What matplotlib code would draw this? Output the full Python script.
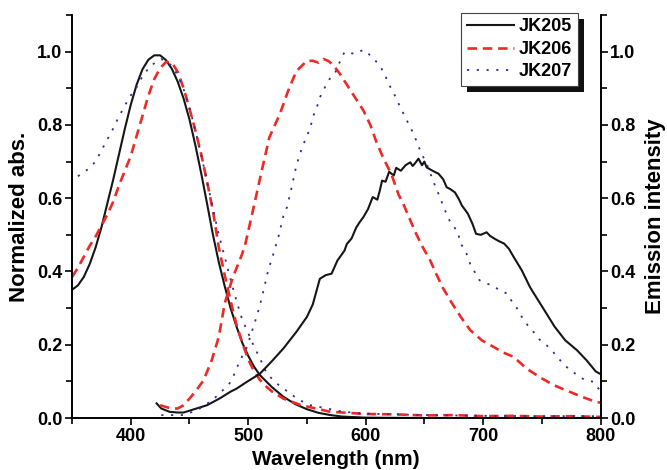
import matplotlib
matplotlib.use('Agg')
import matplotlib.pyplot as plt
from matplotlib.patches import Rectangle
from matplotlib.transforms import IdentityTransform
from matplotlib.ticker import MultipleLocator

plt.rcParams['font.family'] = ['Liberation Sans', 'DejaVu Sans']
plt.rcParams['font.weight'] = 'bold'

# --- absorption (left axis) ---
abs205_wl = [350, 355, 360, 365, 370, 375, 380, 385, 390, 395, 400, 405, 410, 415, 420, 425,
             430, 435, 440, 445, 450, 455, 460, 465, 470, 475, 480, 485, 490, 495, 500, 505,
             510, 520, 530, 540, 550, 560, 570, 580, 600, 650, 700, 750, 800]
abs205 = [0.35, 0.362, 0.385, 0.42, 0.465, 0.52, 0.585, 0.65, 0.72, 0.79, 0.855, 0.91, 0.952,
          0.978, 0.99, 0.99, 0.977, 0.953, 0.918, 0.872, 0.815, 0.745, 0.668, 0.585, 0.50, 0.425,
          0.36, 0.30, 0.25, 0.205, 0.17, 0.14, 0.117, 0.085, 0.058, 0.038, 0.024, 0.014, 0.008,
          0.004, 0.001, 0.0, 0.0, 0.0, 0.0]

abs206_wl = [350, 355, 360, 365, 370, 375, 380, 385, 390, 395, 400, 405, 410, 415, 420, 425, 430,
             435, 440, 445, 450, 455, 460, 465, 470, 475, 480, 485, 490, 495, 500, 505, 510, 515,
             520, 530, 545, 570, 600, 625, 650, 675, 700, 725, 750, 775, 800]
abs206 = [0.385, 0.41, 0.44, 0.47, 0.495, 0.525, 0.555, 0.59, 0.635, 0.675, 0.715, 0.77, 0.825,
          0.88, 0.925, 0.955, 0.972, 0.97, 0.945, 0.90, 0.845, 0.785, 0.72, 0.645, 0.565, 0.465,
          0.39, 0.32, 0.255, 0.205, 0.16, 0.128, 0.104, 0.087, 0.073, 0.053, 0.035, 0.017, 0.011,
          0.01, 0.007, 0.008, 0.005, 0.006, 0.004, 0.005, 0.003]

abs207_wl = [355, 364, 370, 375, 380, 385, 389, 394, 399, 405, 410, 417, 426, 435, 440, 445, 450,
             455, 460, 465, 470, 475, 480, 485, 490, 495, 500, 505, 510, 516, 526, 543, 553, 581,
             600, 650, 700, 750, 800]
abs207 = [0.66, 0.68, 0.70, 0.73, 0.76, 0.79, 0.817, 0.847, 0.876, 0.903, 0.933, 0.962, 0.98, 0.962,
          0.935, 0.898, 0.847, 0.785, 0.718, 0.645, 0.572, 0.50, 0.44, 0.378, 0.32, 0.268, 0.232,
          0.195, 0.163, 0.12, 0.09, 0.05, 0.035, 0.017, 0.012, 0.008, 0.006, 0.005, 0.005]

# --- emission (right axis) ---
em205_wl = [422, 426, 433, 440, 445, 453, 465, 476, 485, 490, 499, 510, 521, 530, 541, 550, 555,
            558, 561, 566, 571, 576, 582, 584, 588, 592, 595, 598, 602, 606, 610, 612, 614, 617,
            620, 624, 626, 630, 634, 638, 640, 642, 645, 648, 650, 652, 657, 660, 662, 666, 669,
            672, 676, 679, 682, 687, 691, 694, 698, 703, 706, 710, 714, 718, 722, 726, 733, 740,
            747, 754, 761, 770, 780, 788, 796, 800]
em205 = [0.04, 0.026, 0.017, 0.015, 0.015, 0.023, 0.035, 0.054, 0.072, 0.08, 0.099, 0.121, 0.158,
         0.19, 0.235, 0.276, 0.31, 0.345, 0.38, 0.39, 0.394, 0.43, 0.457, 0.475, 0.49, 0.52, 0.535,
         0.548, 0.57, 0.603, 0.596, 0.62, 0.648, 0.645, 0.672, 0.662, 0.683, 0.675, 0.69, 0.698,
         0.688, 0.695, 0.708, 0.69, 0.70, 0.684, 0.675, 0.67, 0.667, 0.652, 0.63, 0.625, 0.616,
         0.6, 0.58, 0.558, 0.53, 0.503, 0.50, 0.507, 0.497, 0.489, 0.482, 0.476, 0.462, 0.44,
         0.403, 0.357, 0.321, 0.285, 0.249, 0.212, 0.185, 0.158, 0.127, 0.12]

em206_wl = [425, 430, 435, 440, 445, 450, 455, 462, 469, 475, 480, 487, 493, 497, 504, 511, 518,
            527, 534, 541, 550, 555, 560, 564, 568, 572, 578, 584, 589, 598, 604, 609, 615, 622,
            628, 632, 638, 643, 648, 655, 660, 666, 673, 681, 689, 699, 709, 717, 726, 737, 748,
            760, 771, 785, 796, 800]
em206 = [0.035, 0.03, 0.026, 0.026, 0.035, 0.053, 0.072, 0.103, 0.158, 0.222, 0.313, 0.385, 0.432,
         0.467, 0.566, 0.667, 0.766, 0.83, 0.893, 0.947, 0.975, 0.975, 0.97, 0.98, 0.975, 0.965,
         0.94, 0.91, 0.885, 0.84, 0.80, 0.755, 0.71, 0.665, 0.61, 0.585, 0.54, 0.503, 0.47, 0.43,
         0.394, 0.354, 0.316, 0.276, 0.24, 0.212, 0.194, 0.179, 0.167, 0.135, 0.112, 0.09, 0.075,
         0.057, 0.044, 0.042]

em207_wl = [426, 435, 445, 457, 470, 483, 486, 490, 494, 499, 503, 507, 510, 514, 517, 521, 526,
            530, 533, 537, 541, 546, 549, 553, 555, 558, 561, 566, 570, 574, 577, 582, 591, 598,
            606, 611, 616, 619, 623, 629, 637, 641, 643, 646, 649, 652, 658, 662, 666, 670, 673,
            679, 680, 685, 689, 693, 697, 703, 709, 714, 721, 724, 729, 733, 738, 743, 747, 754,
            760, 765, 770, 775, 780, 787, 794, 797, 800]
em207 = [0.008, 0.008, 0.008, 0.022, 0.05, 0.09, 0.103, 0.135, 0.163, 0.194, 0.235, 0.275, 0.308,
         0.361, 0.403, 0.443, 0.498, 0.552, 0.575, 0.63, 0.689, 0.74, 0.762, 0.793, 0.822, 0.843,
         0.875, 0.907, 0.929, 0.942, 0.965, 0.999, 0.994, 1.005, 0.985, 0.965, 0.942, 0.915,
         0.893, 0.852, 0.80, 0.775, 0.758, 0.734, 0.713, 0.694, 0.643, 0.612, 0.58, 0.548, 0.53,
         0.507, 0.48, 0.457, 0.421, 0.398, 0.376, 0.367, 0.361, 0.348, 0.339, 0.321, 0.299, 0.276,
         0.253, 0.235, 0.217, 0.199, 0.179, 0.16, 0.142, 0.13, 0.117, 0.103, 0.099, 0.085, 0.075]

names = ['JK205', 'JK206', 'JK207']

black = '#161616'
red = '#ef2a26'
blue = '#2e2e9c'
dash_style = (0, (3.6, 2.2))
dot_style = (0, (1.2, 4.2))

fig = plt.figure(figsize=(6.67, 4.7), dpi=100)
ax = fig.add_axes([0.108, 0.1106, 0.7923, 0.8574])
ax2 = ax.twinx()

ax.plot(abs205_wl, abs205, color=black, lw=1.5, label=names[0])
ax.plot(abs206_wl, abs206, color=red, lw=1.9, ls=dash_style, label=names[1])
ax.plot(abs207_wl, abs207, color=blue, lw=1.3, ls=dot_style, label=names[2])
ax.plot(em205_wl, em205, color=black, lw=1.5)
ax.plot(em206_wl, em206, color=red, lw=1.9, ls=dash_style)
ax.plot(em207_wl, em207, color=blue, lw=1.3, ls=dot_style)

for a in (ax, ax2):
    a.set_xlim(350, 800)
    a.set_ylim(0, 1.1)
    a.yaxis.set_major_locator(MultipleLocator(0.2))
    a.yaxis.set_minor_locator(MultipleLocator(0.1))
    a.yaxis.set_major_formatter('{x:.1f}')
    a.spines['top'].set_visible(False)
    for s in a.spines.values():
        s.set_linewidth(1.2)
    a.tick_params(which='major', direction='out', length=5, width=1.2, labelsize=13, pad=2)
    a.tick_params(which='minor', direction='out', length=4, width=1.2)
ax.xaxis.set_major_locator(MultipleLocator(100))
ax.xaxis.set_minor_locator(MultipleLocator(50))

ax.set_xlabel('Wavelength (nm)', fontsize=15, fontweight='bold', labelpad=4)
ax.set_ylabel('Normalized abs.', fontsize=16, fontweight='bold', labelpad=5)
ax2.set_ylabel('Emission intensity', fontsize=16, fontweight='bold', labelpad=7)

handles, labels = ax.get_legend_handles_labels()
leg = ax2.legend(handles, labels, loc='upper right', bbox_to_anchor=(0.957, 1.005),
                 prop={'weight': 'bold', 'size': 13}, fancybox=False,
                 edgecolor='#444444', framealpha=1, handlelength=2.6, handletextpad=0.3,
                 labelspacing=0.3, borderpad=0.3, borderaxespad=0)
leg.get_frame().set_linewidth(0.8)
leg.set_zorder(10)

fig.canvas.draw()
bb = leg.get_window_extent()
shadow = Rectangle((bb.x0 + 6, bb.y0 - 6), bb.width, bb.height, transform=IdentityTransform(),
                   facecolor='#111111', edgecolor='none', zorder=9, clip_on=False)
ax2.add_patch(shadow)

fig.savefig('out.png', dpi=100)
